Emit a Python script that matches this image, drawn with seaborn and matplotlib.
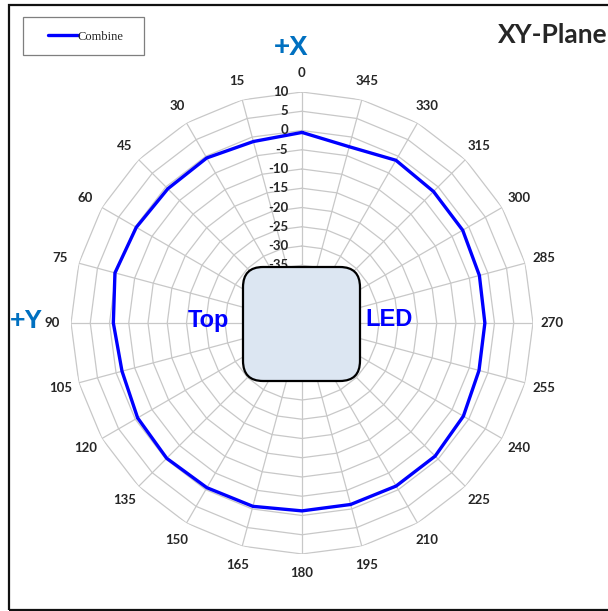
import numpy as np
import matplotlib
matplotlib.use('Agg')
import matplotlib.pyplot as plt
import seaborn as sns
from matplotlib.patches import FancyBboxPatch, Rectangle

# angles of the measurement (deg) and combined level (dB)
angles = [0, 15, 30, 45, 60, 75, 90, 105, 120, 135, 150, 165,
          180, 195, 210, 225, 240, 255, 270, 285, 300, 315, 330, 345]
combine = [-0.5, -1.2, -0.5, -0.7, -0.3, 0.3, -1.0, -1.6, -0.7, -0.3, -0.6, -0.7,
           -1.2, -1.2, -1.1, -1.1, -1.6, -2.4, -2.5, -2.3, -1.8, -1.7, -1.2, -2.6]
r_levels = list(range(-50, 11, 5))
series_name = 'Combine'

sns.set_style('white')

W, H = 608, 611
fig = plt.figure(figsize=(W / 100, H / 100), dpi=100)

# polar axes: centre (302, 323) px, outer ring radius 231 px
cx, cy, R = 302, 323, 231
ax = fig.add_axes([(cx - R) / W, (H - cy - R) / H, 2 * R / W, 2 * R / H],
                  projection='polar')
ax.set_theta_zero_location('N')
ax.set_theta_direction(1)

theta = np.deg2rad(angles)
theta_closed = np.append(theta, theta[0] + 2 * np.pi)

# polygon grid (radar style)
grid_col = '#c8c8c8'
for lvl in r_levels[1:]:
    ax.plot(theta_closed, [lvl] * len(theta_closed), color=grid_col, lw=0.9, zorder=1)
for t in theta:
    ax.plot([t, t], [r_levels[0], r_levels[-1]], color=grid_col, lw=0.9, zorder=1)

# data line
vals_closed = combine + [combine[0]]
sns.lineplot(x=theta_closed, y=vals_closed, sort=False, color='#0000ff', lw=2.4,
             label=series_name, ax=ax, zorder=3)

ax.set_ylim(r_levels[0], r_levels[-1])
ax.set_xticks([])
ax.set_yticks([])
ax.grid(False)
ax.spines['polar'].set_visible(False)
ax.set_xlabel('')
ax.set_ylabel('')
ax.patch.set_alpha(0)

num_font = dict(family='Lato', fontweight='bold', fontsize=9.5)
for a, t in zip(angles, theta):
    ax.text(t, 15, str(a), ha='center', va='center', clip_on=False, **num_font)
for lvl in r_levels:
    ax.annotate(str(lvl), xy=(0, lvl), xytext=(-10, 0), textcoords='offset points',
                ha='right', va='center', annotation_clip=False, **num_font)

# legend: frame drawn separately so its size matches
handles, labels = ax.get_legend_handles_labels()
ax.get_legend().remove()
fig.add_artist(Rectangle((23 / W, 1 - 55 / H), 121 / W, 38 / H, transform=fig.transFigure,
                         facecolor='white', edgecolor='#7f7f7f', lw=0.9, zorder=6))
leg = fig.legend(handles, labels, loc='center left', bbox_to_anchor=(48 / W, 1 - 36.5 / H),
                 bbox_transform=fig.transFigure, borderaxespad=0, frameon=False,
                 prop={'family': 'Liberation Serif', 'size': 9},
                 handlelength=2.4, handletextpad=0, borderpad=0)
leg.set_zorder(7)

# sensor box in the middle
box = FancyBboxPatch((243 / W, (H - 381) / H), 117 / W, 114 / H,
                     boxstyle='round,pad=0,rounding_size=0.033',
                     transform=fig.transFigure, facecolor='#dce6f2',
                     edgecolor='black', lw=1.6, zorder=5)
fig.add_artist(box)

fig.text(208 / W, 1 - 320 / H, 'Top', color='#0000ff', fontsize=17,
         fontweight='bold', family='Liberation Sans', ha='center', va='center')
fig.text(389 / W, 1 - 320 / H, 'LED', color='#0000ff', fontsize=17,
         fontweight='bold', family='Liberation Sans', ha='center', va='center')
fig.text(291 / W, 1 - 48 / H, '+X', color='#0070c0', fontsize=20,
         fontweight='bold', family='Liberation Sans', ha='center', va='center')
fig.text(26 / W, 1 - 321 / H, '+Y', color='#0070c0', fontsize=19,
         fontweight='bold', family='Liberation Sans', ha='center', va='center')
fig.text(498 / W, 1 - 35 / H, 'XY-Plane', fontsize=19, fontweight='bold',
         family='Lato', ha='left', va='center')

# chart border
fig.add_artist(Rectangle((9 / W, 1.5 / H), 2, (H - 6) / H, transform=fig.transFigure,
                         fill=False, lw=1.6, edgecolor='#111111', zorder=10))

fig.savefig('out.png', dpi=100)
